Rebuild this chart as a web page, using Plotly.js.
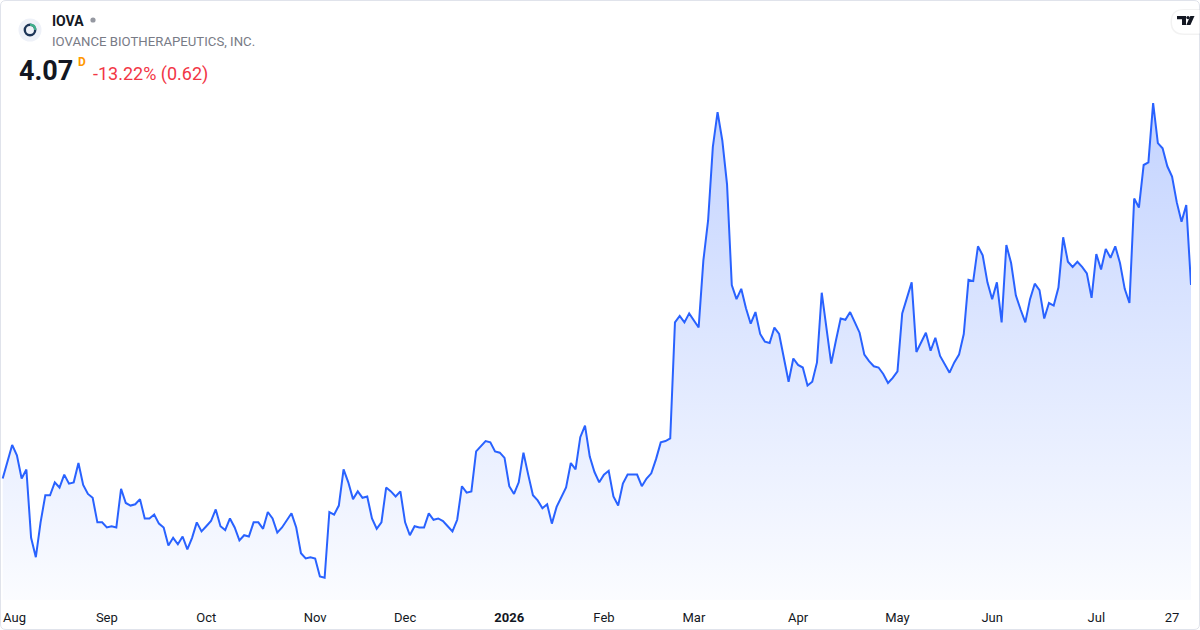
<!DOCTYPE html>
<html><head><meta charset="utf-8">
<script src="https://cdn.plot.ly/plotly-3.0.1.min.js"></script>
<style>html,body{margin:0;padding:0;background:#fff;}#chart{width:1200px;height:630px;}</style>
</head><body><div id="chart"></div>
<script>
// Daily closes (trading days, Jul 31 2025 .. Jul 31 2026)
const closes = [
  2.57, 2.69, 2.83, 2.75, 2.57, 2.64, 2.11, 1.96, 2.23, 2.44,
  2.44, 2.54, 2.50, 2.60, 2.53, 2.54, 2.69, 2.52, 2.45, 2.42,
  2.23, 2.23, 2.19, 2.20, 2.19, 2.49, 2.38, 2.36, 2.37, 2.41,
  2.26, 2.26, 2.29, 2.22, 2.19, 2.05, 2.11, 2.06, 2.12, 2.02,
  2.11, 2.23, 2.16, 2.20, 2.24, 2.33, 2.20, 2.17, 2.26, 2.19,
  2.09, 2.13, 2.12, 2.23, 2.23, 2.18, 2.31, 2.26, 2.15, 2.19,
  2.25, 2.30, 2.19, 1.99, 1.95, 1.96, 1.95, 1.81, 1.80, 2.31,
  2.29, 2.36, 2.64, 2.54, 2.41, 2.47, 2.42, 2.43, 2.26, 2.18,
  2.23, 2.50, 2.47, 2.43, 2.47, 2.23, 2.13, 2.20, 2.19, 2.19,
  2.30, 2.25, 2.26, 2.24, 2.20, 2.16, 2.25, 2.51, 2.46, 2.47,
  2.78, 2.82, 2.86, 2.85, 2.78, 2.77, 2.73, 2.51, 2.45, 2.54,
  2.77, 2.60, 2.44, 2.40, 2.34, 2.37, 2.22, 2.35, 2.43, 2.50,
  2.69, 2.64, 2.89, 2.98, 2.74, 2.62, 2.54, 2.60, 2.63, 2.43,
  2.36, 2.53, 2.60, 2.60, 2.60, 2.51, 2.57, 2.61, 2.72, 2.85,
  2.86, 2.88, 3.78, 3.83, 3.78, 3.85, 3.79, 3.74, 4.26, 4.57,
  5.14, 5.41, 5.19, 4.85, 4.07, 3.96, 4.04, 3.89, 3.77, 3.86,
  3.69, 3.63, 3.62, 3.74, 3.69, 3.50, 3.32, 3.50, 3.45, 3.43,
  3.29, 3.32, 3.47, 4.01, 3.72, 3.46, 3.64, 3.81, 3.80, 3.86,
  3.78, 3.70, 3.53, 3.48, 3.44, 3.43, 3.38, 3.31, 3.35, 3.40,
  3.85, 3.98, 4.09, 3.55, 3.62, 3.70, 3.56, 3.66, 3.52, 3.45,
  3.39, 3.47, 3.53, 3.69, 4.11, 4.10, 4.37, 4.30, 4.09, 3.96,
  4.09, 3.78, 4.38, 4.24, 3.99, 3.88, 3.78, 3.96, 4.08, 4.03,
  3.81, 3.93, 3.91, 4.05, 4.44, 4.25, 4.21, 4.25, 4.21, 4.16,
  3.97, 4.31, 4.19, 4.35, 4.28, 4.37, 4.24, 4.04, 3.93, 4.74,
  4.67, 5.00, 5.02, 5.48, 5.17, 5.13, 4.99, 4.91, 4.71, 4.56, 4.69, 4.07
];
const tickIndex = [2.5, 22, 43, 66, 85, 107, 127, 146, 168, 189, 209, 231, 247];
const tickText = ['Aug', 'Sep', 'Oct', 'Nov', 'Dec', '<b>2026</b>', 'Feb', 'Mar', 'Apr', 'May', 'Jun', 'Jul', '27'];
const symbol = 'IOVA';
const company = 'IOVANCE BIOTHERAPEUTICS, INC.';
const lastPrice = '4.07';
const changeText = '-13.22% (0.62)';

const W = 1200, H = 630, ML = 0, MR = 9, MT = 0, MB = 30;
const PW = W - ML - MR, PH = H - MT - MB;
const px = x => (x - ML) / PW;
const py = y => 1 - (y - MT) / PH;
const idx = closes.map((_, i) => i);
const FONT = 'Roboto, "Noto Sans", sans-serif';

// pixel-space path helper (image pixel coords)
function pathOf(cmds) {
  return cmds.map(c => c[0] + (c.length > 1 ? ' ' + c.slice(1).map((v, k) => (k % 2 ? -v : v)).join(' ') : '')).join(' ');
}
function pixShape(extra) {
  return Object.assign({xref: 'paper', yref: 'paper', xsizemode: 'pixel', ysizemode: 'pixel',
    xanchor: px(0), yanchor: py(0), layer: 'above'}, extra);
}
function circle(cx, cy, r, fill, line, lw) {
  return pixShape({type: 'circle', x0: cx - r, x1: cx + r, y0: -(cy - r), y1: -(cy + r),
    fillcolor: fill, line: {color: line || 'rgba(0,0,0,0)', width: lw || 0}});
}

const shapes = [
  // outer frame
  pixShape({type: 'path', path: pathOf([['M', 6, 0.5], ['L', 1194, 0.5], ['Q', 1199.5, 0.5, 1199.5, 6],
    ['L', 1199.5, 624], ['Q', 1199.5, 629.5, 1194, 629.5], ['L', 6, 629.5], ['Q', 0.5, 629.5, 0.5, 624],
    ['L', 0.5, 6], ['Q', 0.5, 0.5, 6, 0.5], ['Z']]), fillcolor: 'rgba(0,0,0,0)', line: {color: '#e0e3eb', width: 1}}),
  // logo
  circle(30, 30, 11.5, '#eef1f8'),
  circle(30, 30, 5.2, 'rgba(0,0,0,0)', '#1d3557', 2.4),
  pixShape({type: 'path', path: pathOf([['M', 30, 24.8], ['Q', 35.2, 24.8, 35.2, 30]]),
    fillcolor: 'rgba(0,0,0,0)', line: {color: '#3fae8c', width: 2.4}}),
  // status dot
  circle(93, 20, 2.6, '#9598a1'),
  // TV badge shadow + pill
  pixShape({type: 'path', path: pathOf([['M', 1184, 9], ['L', 1199.5, 9], ['L', 1199.5, 35], ['L', 1184, 35],
    ['Q', 1170.5, 35, 1170.5, 22], ['Q', 1170.5, 9, 1184, 9], ['Z']]), fillcolor: 'rgba(0,0,0,0.05)', line: {width: 0}}),
  pixShape({type: 'path', path: pathOf([['M', 1184, 10], ['L', 1199.5, 10], ['L', 1199.5, 33.5], ['L', 1184, 33.5],
    ['Q', 1172, 33.5, 1172, 21.75], ['Q', 1172, 10, 1184, 10], ['Z']]), fillcolor: '#ffffff', line: {width: 0}}),
  // TV logo glyph
  pixShape({type: 'path', path: pathOf([['M', 1177, 16], ['L', 1186, 16], ['L', 1186, 25], ['L', 1182, 25],
    ['L', 1182, 19.3], ['L', 1177, 19.3], ['Z']]), fillcolor: '#131722', line: {width: 0}}),
  circle(1188, 17.6, 1.7, '#131722'),
  pixShape({type: 'path', path: pathOf([['M', 1190.3, 16], ['L', 1194.5, 16], ['L', 1190.4, 25], ['L', 1186.3, 25], ['Z']]),
    fillcolor: '#131722', line: {width: 0}})
];

const annotations = [
  {text: '<b>' + symbol + '</b>', x: px(50), y: py(21), xanchor: 'left', yanchor: 'middle',
    font: {family: FONT, size: 14, color: '#131722'}},
  {text: company, x: px(50), y: py(41), xanchor: 'left', yanchor: 'middle',
    font: {family: FONT, size: 13.2, color: '#787b86'}},
  {text: '<b>' + lastPrice + '</b>', x: px(17), y: py(71.5), xanchor: 'left', yanchor: 'middle',
    font: {family: FONT, size: 27, color: '#131722'}},
  {text: '<b>D</b>', x: px(76), y: py(61.5), xanchor: 'left', yanchor: 'middle',
    font: {family: FONT, size: 12, color: '#ff9800'}},
  {text: changeText, x: px(90.5), y: py(74), xanchor: 'left', yanchor: 'middle',
    font: {family: FONT, size: 18, color: '#f23645'}}
].map(a => Object.assign({xref: 'paper', yref: 'paper', showarrow: false}, a));

const trace = {
  x: idx, y: closes, type: 'scatter', mode: 'lines',
  line: {color: '#2962ff', width: 2},
  fill: 'tozeroy',
  fillgradient: {type: 'vertical', start: 1.63, stop: 5.48,
    colorscale: [[0, 'rgba(41,98,255,0.02)'], [1, 'rgba(41,98,255,0.28)']]},
  hoverinfo: 'skip'
};

const layout = {
  width: W, height: H,
  margin: {l: ML, r: MR, t: MT, b: MB, pad: 0},
  paper_bgcolor: '#ffffff', plot_bgcolor: '#ffffff',
  showlegend: false,
  xaxis: {range: [-0.57, closes.length - 1], tickvals: tickIndex, ticktext: tickText,
    showgrid: false, zeroline: false, showline: false, ticks: '', ticklabelstandoff: 8,
    tickfont: {family: FONT, size: 13, color: '#131722'}, fixedrange: true},
  yaxis: {range: [1.628, 6.279], visible: false, showgrid: false, zeroline: false, fixedrange: true},
  shapes: shapes, annotations: annotations, hovermode: false
};

Plotly.newPlot('chart', [trace], layout, {displayModeBar: false, staticPlot: true});
</script></body></html>
